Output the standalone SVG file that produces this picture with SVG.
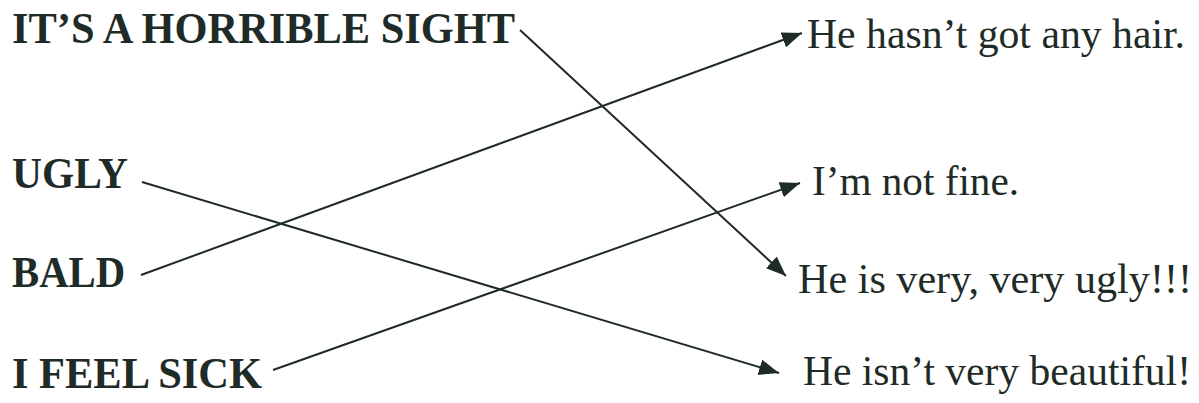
<svg xmlns="http://www.w3.org/2000/svg" width="1199" height="403" viewBox="0 0 1199 403">
<style>
.l{font-family:"Liberation Serif","Times New Roman",serif;font-weight:bold;font-size:44px;fill:#1f2b27}
.r{font-family:"Liberation Serif","Times New Roman",serif;font-size:43px;fill:#1f2b27}
.c{stroke:#1f2b27;stroke-width:2;fill:none;marker-end:url(#ah)}
</style>
<defs>
<marker id="ah" markerUnits="userSpaceOnUse" markerWidth="22" markerHeight="16" refX="20" refY="8" orient="auto">
<path d="M0,0 L20,8 L0,16 z" fill="#1f2b27"/>
</marker>
</defs>
<g id="n-horrible"><text class="l" x="12" y="43" textLength="503" lengthAdjust="spacingAndGlyphs">IT’S A HORRIBLE SIGHT</text></g>
<g id="n-ugly"><text class="l" x="12" y="188" textLength="116" lengthAdjust="spacingAndGlyphs">UGLY</text></g>
<g id="n-bald"><text class="l" x="12" y="287" textLength="113" lengthAdjust="spacingAndGlyphs">BALD</text></g>
<g id="n-sick"><text class="l" x="12" y="388" textLength="250" lengthAdjust="spacingAndGlyphs">I FEEL SICK</text></g>
<g id="n-hair"><text class="r" x="807" y="48" textLength="378" lengthAdjust="spacingAndGlyphs">He hasn’t got any hair.</text></g>
<g id="n-fine"><text class="r" x="812" y="195" textLength="207" lengthAdjust="spacingAndGlyphs">I’m not fine.</text></g>
<g id="n-veryugly"><text class="r" x="798" y="293" textLength="394" lengthAdjust="spacingAndGlyphs">He is very, very ugly!!!</text></g>
<g id="n-beautiful"><text class="r" x="803" y="385" textLength="388" lengthAdjust="spacingAndGlyphs">He isn’t very beautiful!</text></g>
<g id="connectors">
<line class="c" x1="520" y1="30" x2="786" y2="276"/>
<line class="c" x1="141" y1="275" x2="802" y2="33"/>
<line class="c" x1="142" y1="182" x2="779" y2="373"/>
<line class="c" x1="273" y1="370" x2="800" y2="183"/>
</g>
</svg>
